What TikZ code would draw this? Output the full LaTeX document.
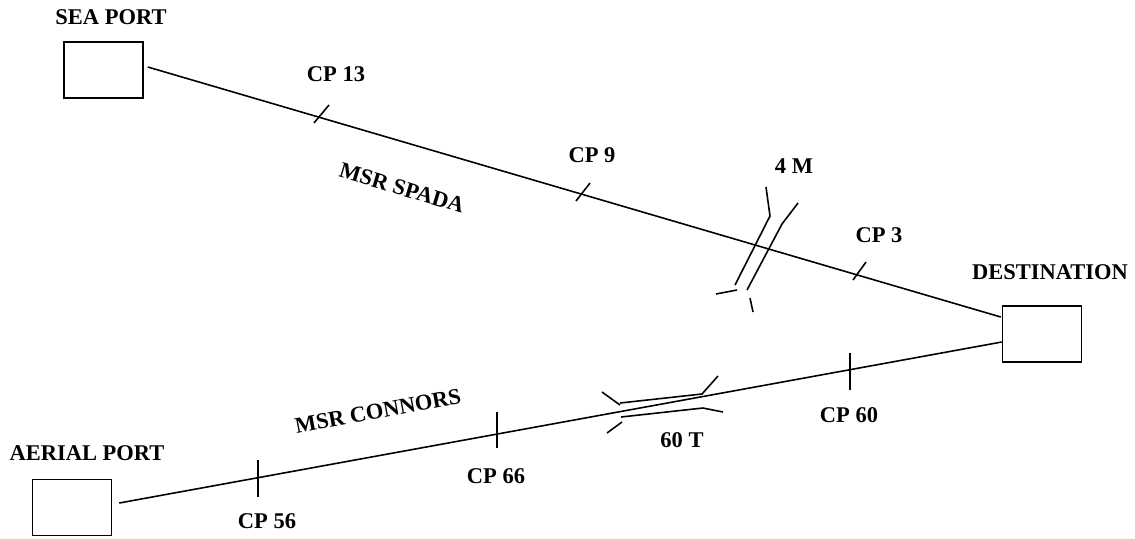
\documentclass[tikz,border=0pt]{standalone}
\usepackage{fontspec}
\setmainfont{Liberation Serif}
\usetikzlibrary{calc}

\begin{document}
\begin{tikzpicture}[
  x=0.02cm, y=-0.02cm,
  place/.style={draw, line width=0.9pt, minimum width=1.58cm, minimum height=1.12cm, inner sep=0pt},
  lbl/.style={font=\bfseries\fontsize{12.8}{15}\selectfont, inner sep=0pt},
  road/.style={line width=0.9pt},
  cpmark/.style={line width=0.9pt},
  bridge/.style={line width=0.9pt},
]
\useasboundingbox (0,0) rectangle (1135,538);

% --- Places ---
\node[place] (seaport) at (103.5,70) {};
\node[place] (dest) at (1042,334) {};
\node[place] (aerport) at (72,507.5) {};
\node[lbl] (seaportlbl) at (111,17) {SEA PORT};
\node[lbl] (destlbl) at (1050,272) {DESTINATION};
\node[lbl] (aerportlbl) at (87,453) {AERIAL PORT};

% --- Roads ---
\draw[road] ($(seaport.east)+(4,-3)$) -- ($(dest.west)+(-1,-17)$);
\draw[road] ($(aerport.east)+(7,-4.5)$) -- ($(dest.west)+(0,8)$);
\node[lbl, rotate=-16.5] (spada) at (402,188) {MSR SPADA};
\node[lbl, rotate=10.5] (connors) at (378,411) {MSR CONNORS};

% --- Check points, MSR Spada ---
\draw[cpmark] (314,123) -- (329,105);
\draw[cpmark] (576,201) -- (590,183);
\draw[cpmark] (853,280) -- (866,262);
\node[lbl] (cp13) at (336,74) {CP 13};
\node[lbl] (cp9) at (592,155) {CP 9};
\node[lbl] (cp3) at (879,235) {CP 3};

% --- Check points, MSR Connors ---
\draw[cpmark] (258,460) -- (258,497);
\draw[cpmark] (497,412) -- (497,448);
\draw[cpmark] (850,353) -- (850,390);
\node[lbl] (cp56) at (267,521) {CP 56};
\node[lbl] (cp66) at (496,476) {CP 66};
\node[lbl] (cp60) at (849,415) {CP 60};

% --- Bridges ---
\draw[bridge] (766,187) -- (770,216) -- (735,285);
\draw[bridge] (737,290) -- (716,294);
\draw[bridge] (798,203) -- (782,224) -- (747,290);
\draw[bridge] (750,298) -- (753,312);
\node[lbl] (bridge4m) at (794,166) {4 M};

\draw[bridge] (602,392) -- (620,405);
\draw[bridge] (620,403) -- (702,394) -- (718,376);
\draw[bridge] (607,433) -- (622,422);
\draw[bridge] (621,417) -- (703,408) -- (723,412);
\node[lbl] (bridge60t) at (682,440) {60 T};
\end{tikzpicture}
\end{document}
